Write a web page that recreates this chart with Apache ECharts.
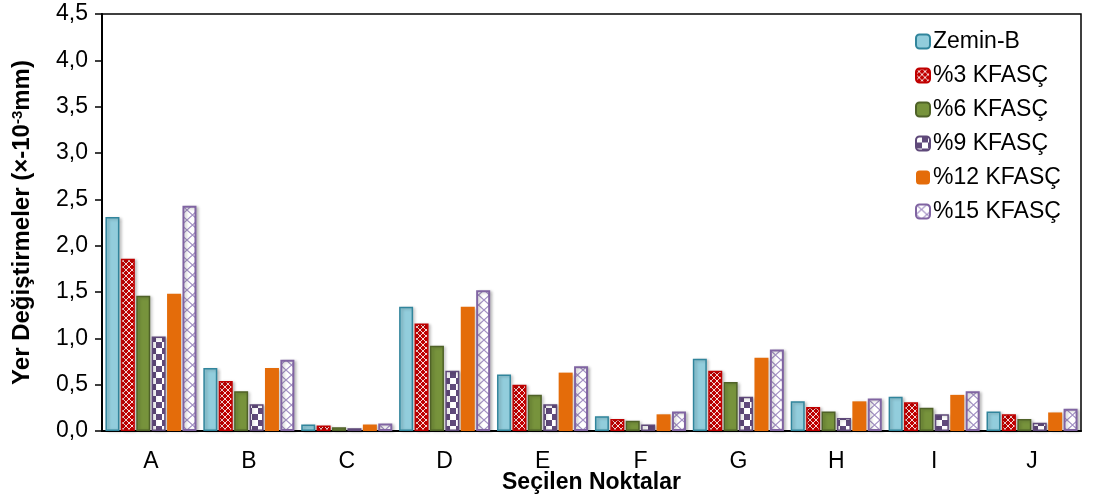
<!DOCTYPE html>
<html>
<head>
<meta charset="utf-8">
<script src="https://cdn.jsdelivr.net/npm/echarts@6/dist/echarts.min.js"></script>
<style>
  html, body { margin: 0; padding: 0; background: #fff; }
  #chart { width: 1095px; height: 500px; }
</style>
</head>
<body>
<div id="chart"></div>
<script>
// data
const categories = ['A', 'B', 'C', 'D', 'E', 'F', 'G', 'H', 'I', 'J']
const seriesNames = ['Zemin-B', '%3 KFASÇ', '%6 KFASÇ', '%9 KFASÇ', '%12 KFASÇ', '%15 KFASÇ']
const zeminB = [2.31, 0.68, 0.07, 1.34, 0.61, 0.16, 0.78, 0.32, 0.37, 0.21]
const kfasc3 = [1.86, 0.54, 0.06, 1.16, 0.50, 0.13, 0.65, 0.26, 0.31, 0.18]
const kfasc6 = [1.46, 0.43, 0.04, 0.92, 0.39, 0.11, 0.53, 0.21, 0.25, 0.13]
const kfasc9 = [1.02, 0.29, 0.03, 0.65, 0.29, 0.07, 0.37, 0.14, 0.18, 0.09]
const kfasc12 = [1.48, 0.68, 0.07, 1.34, 0.63, 0.18, 0.79, 0.32, 0.39, 0.20]
const kfasc15 = [2.43, 0.77, 0.08, 1.52, 0.70, 0.21, 0.88, 0.35, 0.43, 0.24]
const yTicks = { min: 0, max: 4.5, interval: 0.5 }

// small canvas tiles used as fill patterns
function makeTile(w, h, draw) {
  const c = document.createElement('canvas')
  c.width = w
  c.height = h
  draw(c.getContext('2d'), w, h)
  return { image: c, repeat: 'repeat' }
}

const redLattice = makeTile(6, 6, (ctx, w, h) => {
  ctx.fillStyle = '#C00000'
  ctx.fillRect(0, 0, w, h)
  ctx.strokeStyle = 'rgba(255,255,255,0.85)'
  ctx.lineWidth = 1
  ctx.beginPath()
  ctx.moveTo(0, 0); ctx.lineTo(w, h)
  ctx.moveTo(w, 0); ctx.lineTo(0, h)
  ctx.stroke()
})

const purpleChecker = makeTile(12, 12, (ctx, w, h) => {
  ctx.fillStyle = '#604A7B'
  ctx.fillRect(0, 0, w, h)
  ctx.fillStyle = '#fff'
  ctx.fillRect(0, 0, 6, 6)
  ctx.fillRect(6, 6, 6, 6)
})

const lilacCross = makeTile(11, 10, (ctx, w, h) => {
  ctx.fillStyle = '#fff'
  ctx.fillRect(0, 0, w, h)
  ctx.strokeStyle = '#A391C4'
  ctx.lineWidth = 1.2
  ctx.beginPath()
  ctx.moveTo(0, 0); ctx.lineTo(w, h)
  ctx.moveTo(w, 0); ctx.lineTo(0, h)
  ctx.stroke()
})

const styles = [
  { color: '#92CDDC', borderColor: '#31859C', borderWidth: 1.5 },
  { color: redLattice, borderColor: '#C00000', borderWidth: 1.5 },
  { color: '#77933C', borderColor: '#4F6228', borderWidth: 1.5 },
  { color: purpleChecker, borderColor: '#5F497A', borderWidth: 1.5 },
  { color: '#E46C0A', borderColor: '#E46C0A', borderWidth: 0 },
  { color: lilacCross, borderColor: '#8064A2', borderWidth: 2 }
]
const values = [zeminB, kfasc3, kfasc6, kfasc9, kfasc12, kfasc15]

const font = '"Liberation Sans", Arial, sans-serif'

const chart = echarts.init(document.getElementById('chart'))

const option = {
  backgroundColor: '#fff',
  animation: false,
  textStyle: { fontFamily: font },
  grid: {
    left: 102,
    right: 14,
    top: 14,
    bottom: 69,
    outerBoundsMode: 'none',
    containLabel: false,
    show: true,
    borderColor: '#000',
    borderWidth: 1.5
  },
  legend: {
    orient: 'vertical',
    left: 915,
    top: 30,
    padding: 0,
    itemWidth: 14,
    itemHeight: 14,
    itemGap: 11,
    data: seriesNames,
    textStyle: { fontSize: 23, color: '#000', fontFamily: font, padding: [0, 0, 0, -2] }
  },
  xAxis: {
    type: 'category',
    data: categories,
    name: 'Seçilen Noktalar',
    nameLocation: 'middle',
    nameGap: 40,
    nameMoveOverlap: false,
    nameTextStyle: { fontSize: 23, fontWeight: 'bold', color: '#000', fontFamily: font },
    axisLine: { lineStyle: { color: '#000', width: 2 } },
    axisTick: { length: 7, lineStyle: { color: '#000', width: 2 } },
    axisLabel: { fontSize: 23, color: '#000', margin: 19, fontFamily: font }
  },
  yAxis: {
    type: 'value',
    min: yTicks.min,
    max: yTicks.max,
    interval: yTicks.interval,
    name: 'Yer Değiştirmeler (×-10{sup|-3}mm)',
    nameLocation: 'middle',
    nameRotate: 90,
    nameGap: 67,
    nameMoveOverlap: false,
    nameTextStyle: {
      fontSize: 24,
      fontWeight: 'bold',
      color: '#000',
      fontFamily: font,
      rich: {
        sup: { fontSize: 15, fontWeight: 'bold', color: '#000', verticalAlign: 'top', padding: [0, 0, 10, 0] }
      }
    },
    axisLine: { show: true, lineStyle: { color: '#000', width: 2 } },
    axisTick: { show: true, length: 7, lineStyle: { color: '#000', width: 1.5 } },
    splitLine: { show: false },
    axisLabel: {
      fontSize: 23,
      color: '#000',
      margin: 14,
      fontFamily: font,
      formatter: (v) => v.toFixed(1).replace('.', ',')
    }
  },
  series: seriesNames.map((name, i) => ({
    name: name,
    type: 'bar',
    data: values[i],
    barGap: '10%',
    barCategoryGap: '7%',
    itemStyle: Object.assign({
      shadowColor: 'rgba(0,0,0,0.22)',
      shadowBlur: 3,
      shadowOffsetX: 2,
      shadowOffsetY: 1
    }, styles[i])
  }))
}

chart.setOption(option)
</script>
</body>
</html>
